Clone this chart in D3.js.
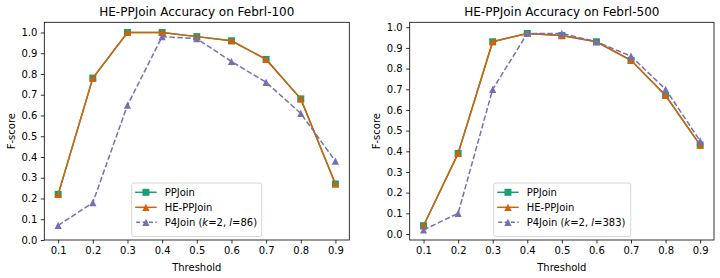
<!DOCTYPE html>
<html><head><meta charset="utf-8">
<script src="https://cdn.jsdelivr.net/npm/d3@7/dist/d3.min.js"></script>
<style>
body{margin:0;background:#fff;}
svg text{font-family:"DejaVu Sans",sans-serif;fill:#000;}
</style></head>
<body><svg id="c" width="720" height="278"></svg>
<script>
const thresholds = [0.1,0.2,0.3,0.4,0.5,0.6,0.7,0.8,0.9];
const xTicks = [0.1,0.2,0.3,0.4,0.5,0.6,0.7,0.8,0.9];
const yTicks = [0,0.1,0.2,0.3,0.4,0.5,0.6,0.7,0.8,0.9,1.0];

const ppjoin100   = [0.22,0.78,1.00,1.00,0.98,0.96,0.87,0.68,0.27];
const heppjoin100 = [0.22,0.78,1.00,1.00,0.98,0.96,0.87,0.68,0.27];
const p4join100   = [0.07,0.18,0.65,0.98,0.97,0.86,0.76,0.61,0.38];

const ppjoin500   = [0.04,0.39,0.93,0.97,0.96,0.93,0.84,0.67,0.43];
const heppjoin500 = [0.04,0.39,0.93,0.97,0.96,0.93,0.84,0.67,0.43];
const p4join500   = [0.02,0.10,0.70,0.97,0.97,0.93,0.86,0.70,0.45];

const titles = ["HE-PPJoin Accuracy on Febrl-100","HE-PPJoin Accuracy on Febrl-500"];
const p4Params = [["2","86"],["2","383"]];

const colors = {pp:"#1b9e77", he:"#d95f02", p4:"#7570b3"};

const svg = d3.select("#c");

const panels = [
  {left:44.3, right:349.3, top:22.3, bottom:240, ydom:[0,1.049], pp:ppjoin100, he:heppjoin100, p4:p4join100, title:titles[0], par:p4Params[0], leg:{x:131.7,y:183,w:130,h:53.5}},
  {left:409.7, right:714, top:22.3, bottom:240, ydom:[-0.029,1.024], pp:ppjoin500, he:heppjoin500, p4:p4join500, title:titles[1], par:p4Params[1], leg:{x:493.7,y:183,w:137,h:53.5}}
];

function triPath(s){ // upward triangle, s = half size
  return `M0,${-s}L${s},${s}L${-s},${s}Z`;
}

panels.forEach(p=>{
  const g = svg.append("g");
  const x = d3.scaleLinear().domain([0.06,0.94]).range([p.left,p.right]);
  const y = d3.scaleLinear().domain(p.ydom).range([p.bottom,p.top]);

  // axes
  const xa = g.append("g").attr("transform",`translate(0,${p.bottom})`)
    .call(d3.axisBottom(x).tickValues(xTicks).tickFormat(d3.format(".1f")).tickSize(3.5).tickPadding(3.5));
  const ya = g.append("g").attr("transform",`translate(${p.left},0)`)
    .call(d3.axisLeft(y).tickValues(yTicks).tickFormat(d3.format(".1f")).tickSize(3.5).tickPadding(3.5));
  [xa,ya].forEach(a=>{
    a.select(".domain").remove();
    a.selectAll("line").attr("stroke","#000").attr("stroke-width",0.8);
    a.selectAll("text").attr("font-size",10).attr("font-family","DejaVu Sans").attr("fill","#000");
  });

  // frame
  g.append("rect").attr("x",p.left).attr("y",p.top).attr("width",p.right-p.left).attr("height",p.bottom-p.top)
    .attr("fill","none").attr("stroke","#000").attr("stroke-width",0.8);

  const line = d3.line().x((d,i)=>x(thresholds[i])).y(d=>y(d));

  // PPJoin
  g.append("path").attr("d",line(p.pp)).attr("fill","none").attr("stroke",colors.pp).attr("stroke-width",1.5);
  g.selectAll(".sq").data(p.pp).enter().append("rect")
    .attr("x",(d,i)=>x(thresholds[i])-3.5).attr("y",d=>y(d)-3.5).attr("width",7).attr("height",7)
    .attr("fill",colors.pp);
  // HE-PPJoin
  g.append("path").attr("d",line(p.he)).attr("fill","none").attr("stroke",colors.he).attr("stroke-width",1.5);
  g.selectAll(".trh").data(p.he).enter().append("path")
    .attr("d",triPath(3.6)).attr("transform",(d,i)=>`translate(${x(thresholds[i])},${y(d)})`)
    .attr("fill",colors.he);
  // P4Join
  g.append("path").attr("d",line(p.p4)).attr("fill","none").attr("stroke",colors.p4).attr("stroke-width",1.5)
    .attr("stroke-dasharray","5.5,2.4");
  g.selectAll(".trp").data(p.p4).enter().append("path")
    .attr("d",triPath(3.6)).attr("transform",(d,i)=>`translate(${x(thresholds[i])},${y(d)})`)
    .attr("fill",colors.p4);

  // title
  g.append("text").attr("x",(p.left+p.right)/2).attr("y",p.top-6).attr("text-anchor","middle")
    .attr("font-size",12).text(p.title);
  // labels
  g.append("text").attr("x",(p.left+p.right)/2).attr("y",270.5).attr("text-anchor","middle")
    .attr("font-size",10).text("Threshold");
  g.append("text").attr("transform",`translate(${p.left-29.5},${(p.top+p.bottom)/2}) rotate(-90)`)
    .attr("text-anchor","middle").attr("font-size",10).text("F-score");

  // legend
  const L = p.leg;
  const lg = g.append("g");
  lg.append("rect").attr("x",L.x).attr("y",L.y).attr("width",L.w).attr("height",L.h).attr("rx",2)
    .attr("fill","#fff").attr("fill-opacity",0.8).attr("stroke","#ccc").attr("stroke-width",0.8);
  const rows = [
    {c:colors.pp, m:"sq", dash:null, label:"PPJoin"},
    {c:colors.he, m:"tri", dash:null, label:"HE-PPJoin"},
    {c:colors.p4, m:"tri", dash:"5.5,2.4", label:null}
  ];
  rows.forEach((r,i)=>{
    const yy = L.y+9.3+i*15;
    const x0 = L.x+3.5, x1 = L.x+25;
    const ln = lg.append("line").attr("x1",x0).attr("x2",x1).attr("y1",yy).attr("y2",yy)
      .attr("stroke",r.c).attr("stroke-width",1.5);
    if(r.dash) ln.attr("stroke-dasharray","4,2.4").attr("stroke-dashoffset",-1);
    const cx=(x0+x1)/2;
    if(r.m==="sq") lg.append("rect").attr("x",cx-3.5).attr("y",yy-3.5).attr("width",7).attr("height",7).attr("fill",r.c);
    else lg.append("path").attr("d",triPath(3.6)).attr("transform",`translate(${cx},${yy})`).attr("fill",r.c);
    const t = lg.append("text").attr("x",L.x+33).attr("y",yy+3.6).attr("font-size",10);
    if(r.label) t.text(r.label);
    else {
      t.append("tspan").text("P4Join (");
      t.append("tspan").attr("font-style","italic").text("k");
      t.append("tspan").text("="+p.par[0]+", ");
      t.append("tspan").attr("font-style","italic").text("l");
      t.append("tspan").text("="+p.par[1]+")");
    }
  });
});
</script></body></html>
